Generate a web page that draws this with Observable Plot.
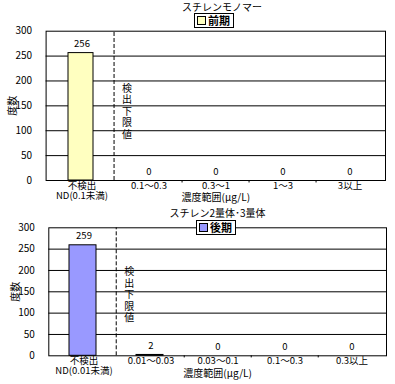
<!DOCTYPE html>
<html>
<head>
<meta charset="utf-8">
<script src="https://cdn.jsdelivr.net/npm/d3@7"></script>
<script src="https://cdn.jsdelivr.net/npm/@observablehq/plot@0.6"></script>
<style>
  html, body { margin: 0; padding: 0; background: #fff; }
  #wrap { position: relative; width: 395px; height: 384px; overflow: hidden; font-family: "Noto Sans CJK JP", sans-serif; color: #000; }
  .panel { position: absolute; left: 0; }
  .title { position: absolute; font-size: 10px; line-height: 12px; white-space: nowrap; transform: translateX(-50%); }
  .legend { position: absolute; background: #fff; border: 1px solid #000; font-size: 11px; font-weight: 600; line-height: 13px; padding: 0 3px 0 2px; white-space: nowrap; display: flex; align-items: center; }
  .sw { display: inline-block; width: 7px; height: 7px; border: 1px solid #000; margin-right: 2px; }
</style>
</head>
<body>
<div id="wrap"></div>
<script>
// ---- data ----
const titleTop = "スチレンモノマー";
const legendTop = "前期";
const catsTop = ["不検出\nND(0.1未満)", "0.1～0.3", "0.3～1", "1～3", "3以上"];
const valuesTop = [256, 0, 0, 0, 0];

const titleBottom = "スチレン2量体･3量体";
const legendBottom = "後期";
const catsBottom = ["不検出\nND(0.01未満)", "0.01～0.03", "0.03～0.1", "0.1～0.3", "0.3以上"];
const valuesBottom = [259, 2, 0, 0, 0];

const yTicks = [0, 50, 100, 150, 200, 250, 300];
const gridTicks = [50, 100, 150, 200, 250];
const yLabel = "度数";
const xLabel = "濃度範囲(μg/L)";
const limitLabel = "検\n出\n下\n限\n値";

const colorTop = "#ffffc0";
const colorBottom = "#9999ff";

function panel({cats, values, color, height, mt, mb, ml, mr, inset, limitDy}) {
  const width = 395;
  const bw = (width - ml - mr) / cats.length;
  const data = cats.map((c, i) => ({cat: c, value: values[i]}));
  return Plot.plot({
    width, height,
    marginTop: mt, marginBottom: mb, marginLeft: ml, marginRight: mr,
    style: {fontFamily: '"Noto Sans CJK JP", sans-serif', fontSize: "9.5px", color: "#000", background: "transparent", overflow: "visible"},
    x: {domain: cats, padding: 0},
    y: {domain: [0, 300]},
    marks: [
      Plot.ruleY(gridTicks, {stroke: "#000", strokeWidth: 1, strokeOpacity: 1}),
      Plot.barY(data, {x: "cat", y: "value", fill: color, stroke: "#000", strokeWidth: 1, insetLeft: inset, insetRight: inset, dx: -1}),
      Plot.text(data, {x: "cat", y: "value", text: d => String(d.value), dy: -9, lineAnchor: "middle", fill: "#000"}),
      Plot.ruleX(cats.slice(1, 2), {x: d => d, dx: -bw / 2 - 1, y1: 0, y2: 300, stroke: "#000", strokeDasharray: "4,2"}),
      Plot.ruleX(cats.slice(2), {x: d => d, dx: -bw / 2, y1: 0, y2: -5, stroke: "#000"}),
      Plot.text([limitLabel], {frameAnchor: "left", textAnchor: "middle", lineAnchor: "middle", dx: bw + 13, dy: limitDy, lineHeight: 1.15, fill: "#000", fontSize: 10}),
      Plot.text([yLabel], {frameAnchor: "left", textAnchor: "middle", lineAnchor: "middle", dx: -33, rotate: -90, fill: "#000", fontSize: 10}),
      Plot.text([xLabel], {frameAnchor: "bottom", lineAnchor: "middle", dy: 17.5, fill: "#000", fontSize: 10}),
      Plot.axisY({ticks: yTicks, tickSize: 0, tickPadding: 14, label: null, fontSize: 10}),
      Plot.axisX({tickSize: 0, tickPadding: 1, label: null, lineHeight: 1.05}),
      Plot.frame({stroke: "#000", strokeWidth: 1})
    ]
  });
}

const wrap = document.getElementById("wrap");

const p1 = panel({cats: catsTop, values: valuesTop, color: colorTop, height: 200, mt: 30.7, mb: 20, ml: 45.6, mr: 10, inset: 21, limitDy: 5});
p1.classList.add("panel"); p1.style.top = "0px";
wrap.appendChild(p1);

const p2 = panel({cats: catsBottom, values: valuesBottom, color: colorBottom, height: 189, mt: 32.3, mb: 28.7, ml: 48.3, mr: 9, inset: 20, limitDy: 3});
p2.classList.add("panel"); p2.style.top = "195px";
wrap.appendChild(p2);

function addTitle(text, cx, top) {
  const d = document.createElement("div");
  d.className = "title"; d.textContent = text;
  d.style.left = cx + "px"; d.style.top = top + "px";
  wrap.appendChild(d);
}
function addLegend(text, color, left, top) {
  const d = document.createElement("div");
  d.className = "legend"; d.style.left = left + "px"; d.style.top = top + "px";
  const s = document.createElement("span"); s.className = "sw"; s.style.background = color;
  d.appendChild(s);
  d.appendChild(document.createTextNode(text));
  wrap.appendChild(d);
}
addTitle(titleTop, 222, 1);
addLegend(legendTop, colorTop, 194, 13);
addTitle(titleBottom, 217.5, 207);
addLegend(legendBottom, colorBottom, 196, 220);
</script>
</body>
</html>
